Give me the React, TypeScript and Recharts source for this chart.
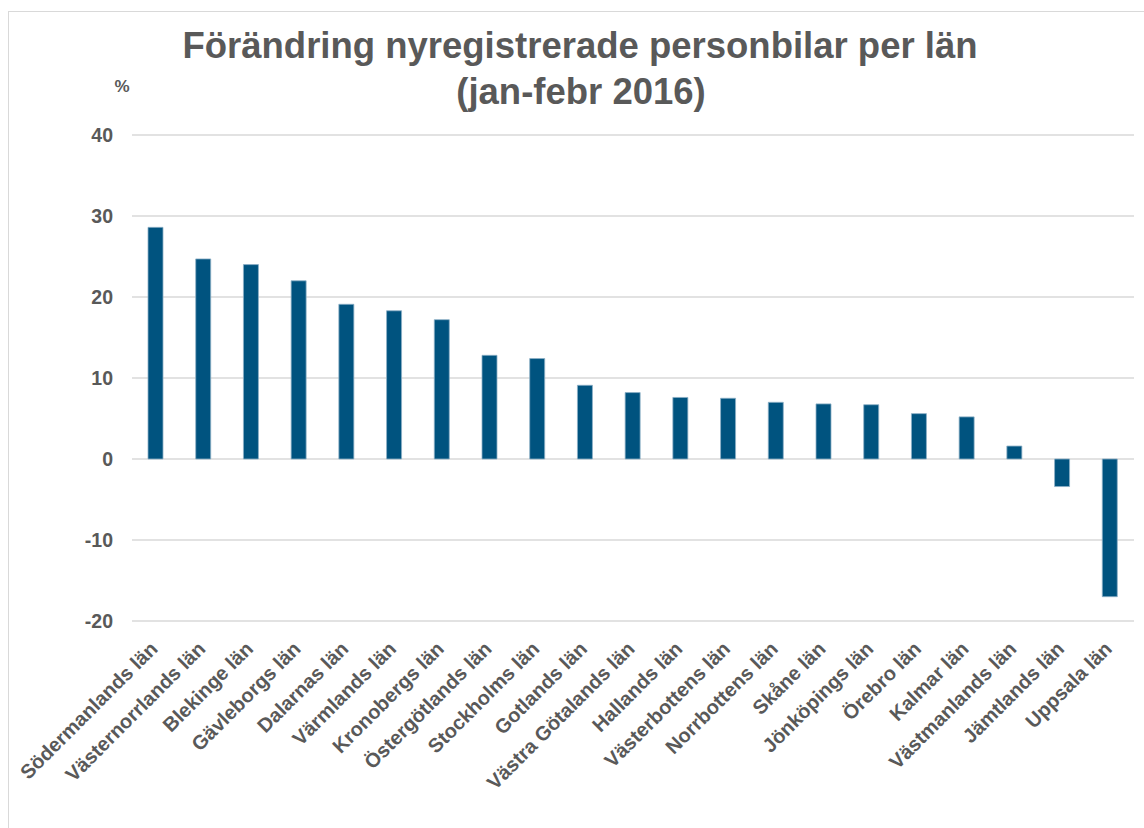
import React from "react";
import { BarChart, Bar, XAxis, YAxis, CartesianGrid } from "recharts";

const categories: string[] = [
  "Södermanlands län",
  "Västernorrlands län",
  "Blekinge län",
  "Gävleborgs län",
  "Dalarnas län",
  "Värmlands län",
  "Kronobergs län",
  "Östergötlands län",
  "Stockholms län",
  "Gotlands län",
  "Västra Götalands län",
  "Hallands län",
  "Västerbottens län",
  "Norrbottens län",
  "Skåne län",
  "Jönköpings län",
  "Örebro län",
  "Kalmar län",
  "Västmanlands län",
  "Jämtlands län",
  "Uppsala län",
];

const changes: number[] = [
  28.6, 24.7, 24.0, 22.0, 19.1, 18.3, 17.2, 12.8, 12.4, 9.1, 8.2, 7.6, 7.5,
  7.0, 6.8, 6.7, 5.6, 5.2, 1.6, -3.4, -17.0,
];

const yTicks: number[] = [-20, -10, 0, 10, 20, 30, 40];

const titleLines: string[] = [
  "Förändring nyregistrerade personbilar per län",
  "(jan-febr 2016)",
];
const unitLabel = "%";

const data = categories.map((name, i) => ({ name, value: changes[i] }));

const FONT = "'Liberation Sans', Arial, Helvetica, sans-serif";
const TEXT = "#595959";

const XTick = (props: any) => {
  const { x, y, payload } = props;
  const px = x + 3;
  const py = y + 21;
  return (
    <text
      x={px}
      y={py}
      textAnchor="end"
      transform={`rotate(-45 ${px} ${py})`}
      fontFamily={FONT}
      fontWeight="bold"
      fontSize={20}
      fill={TEXT}
    >
      {payload.value}
    </text>
  );
};

const YTick = (props: any) => {
  const { y, payload } = props;
  return (
    <text
      x={113}
      y={y}
      dy="0.36em"
      textAnchor="end"
      fontFamily={FONT}
      fontWeight="bold"
      fontSize={19.5}
      fill={TEXT}
    >
      {payload.value}
    </text>
  );
};

export default function App() {
  return (
    <div
      style={{
        position: "absolute",
        left: 0,
        top: 0,
        width: 1144,
        height: 828,
        overflow: "hidden",
        background: "#ffffff",
      }}
    >
      <div
        style={{
          position: "absolute",
          left: 8,
          top: 11,
          width: 1200,
          height: 900,
          border: "1px solid #D9D9D9",
          boxSizing: "border-box",
        }}
      />
      <div style={{ position: "absolute", left: 0, top: 0 }}>
        <BarChart
          width={1144}
          height={828}
          data={data}
          margin={{ top: 135, right: 10, bottom: 7, left: 0 }}
        >
          <CartesianGrid
            vertical={false}
            stroke="#D9D9D9"
            strokeWidth={1.3}
          />
          <XAxis
            dataKey="name"
            interval={0}
            axisLine={false}
            tickLine={false}
            height={200}
            tick={<XTick />}
          />
          <YAxis
            domain={[-20, 40]}
            ticks={yTicks}
            width={132}
            axisLine={false}
            tickLine={false}
            tick={<YTick />}
            interval={0}
          />
          <Bar
            dataKey="value"
            fill="#00537F"
            stroke="#8DB0C6"
            strokeWidth={0.8}
            barSize={15}
            isAnimationActive={false}
          />
        </BarChart>
      </div>
      <svg
        width={1144}
        height={828}
        style={{ position: "absolute", left: 0, top: 0, pointerEvents: "none" }}
      >
        <text
          x={580}
          y={58}
          textAnchor="middle"
          fontFamily={FONT}
          fontWeight="bold"
          fontSize={36.5}
          fill={TEXT}
        >
          {titleLines[0]}
        </text>
        <text
          x={581}
          y={104}
          textAnchor="middle"
          fontFamily={FONT}
          fontWeight="bold"
          fontSize={36.5}
          fill={TEXT}
        >
          {titleLines[1]}
        </text>
        <text
          x={122}
          y={92}
          textAnchor="middle"
          fontFamily={FONT}
          fontWeight="bold"
          fontSize={17}
          fill={TEXT}
        >
          {unitLabel}
        </text>
      </svg>
    </div>
  );
}
